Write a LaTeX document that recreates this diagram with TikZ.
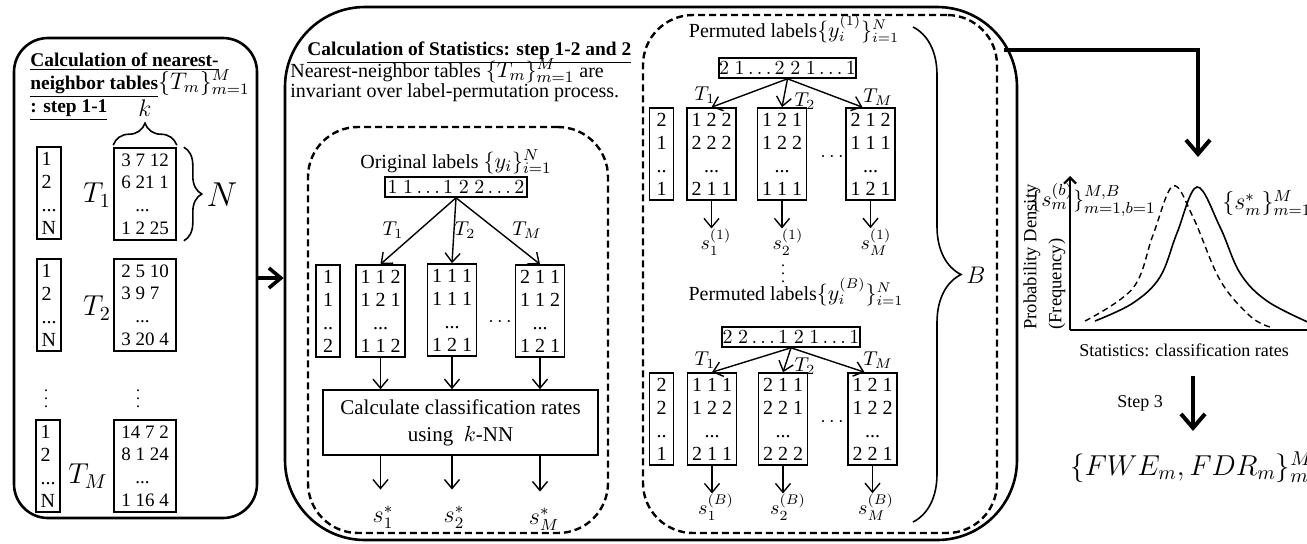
\documentclass[tikz,border=0pt]{standalone}
\usepackage{fontspec}
\setmainfont{Liberation Serif}
\usetikzlibrary{arrows.meta,decorations.pathreplacing,calc}
\begin{document}
\begin{tikzpicture}[x=0.5pt,y=-0.5pt,
 panel/.style={draw, line width=1.3pt, inner sep=0pt},
 dbox/.style={draw, line width=1.2pt, dash pattern=on 3.5pt off 2pt, rounded corners=25pt, inner sep=0pt},
 tbl/.style={draw, line width=0.8pt, align=center, inner sep=0pt, minimum width=24.5pt, minimum height=46pt, font=\fontsize{10}{11.5}\selectfont},
 ltbl/.style={tbl, align=left, minimum width=31pt, font=\fontsize{9.5}{11.3}\selectfont},
 idx/.style={tbl, align=left, minimum width=12pt},
 lbox/.style={draw, line width=0.8pt, inner sep=0pt, minimum height=10pt, font=\fontsize{10}{12}\selectfont},
 txt/.style={inner sep=0pt, font=\fontsize{10}{12}\selectfont},
 ttl/.style={inner sep=0pt, font=\bfseries\fontsize{9.7}{11.5}\selectfont},
 mlab/.style={inner sep=0pt, font=\fontsize{10}{12}\selectfont},
 slab/.style={inner sep=0pt, font=\fontsize{12}{14}\selectfont},
 vd/.style={inner sep=0pt, font=\fontsize{8}{9}\selectfont},
 arr/.style={line width=0.7pt, -{Straight Barb[length=4.5pt,width=7.5pt]}},
 bigarr/.style={line width=2pt, -{Straight Barb[length=7pt,width=12pt]}},
 brc/.style={decorate, decoration={brace, amplitude=#1}, line width=0.8pt},
]
\useasboundingbox (0,0) rectangle (1307,543);
\fill[white] (0,0) rectangle (1307,543);
\clip (0,0) rectangle (1307,543);

% ---------------- left panel ----------------
\node[panel, rounded corners=17pt, minimum width=121.5pt, minimum height=240pt] (lp) at (135.5,278) {};
\node[ttl, anchor=base west] (lt1) at (30,66) {\underline{Calculation of nearest-}};
\node[ttl, anchor=base west] (lt2) at (30,89) {\underline{neighbor tables}{\mdseries\fontsize{11.5}{13}\selectfont$\{T_m\}_{m=1}^{M}$}};
\node[ttl, anchor=base west] (lt3) at (30,112) {\underline{: step 1-1}};

\node[idx] (ia) at (49,193) {1\\2\\...\\N};
\node[ltbl] (ta) at (145,194) {3 7 12\\6 21 1\\\hspace{7pt}...\\1 2 25};
\node[mlab, font=\fontsize{14}{16}\selectfont] (la) at (97,195) {$T_1$};
\draw[brc=11pt] ([yshift=1pt]ta.north west) -- ([yshift=1pt]ta.north east);
\node[mlab, font=\fontsize{12}{14}\selectfont] (kl) at (145,108) {$k$};
\draw[brc=9pt] ([xshift=3.5pt]ta.north east) -- ([xshift=3.5pt]ta.south east);
\node[mlab, font=\fontsize{16}{18}\selectfont] (nl) at (222,195) {$N$};

\node[idx] (ib) at (49,305) {1\\2\\...\\N};
\node[ltbl] (tb) at (145,305) {2 5 10\\3 9 7\\\hspace{7pt}...\\3 20 4};
\node[mlab, font=\fontsize{14}{16}\selectfont] (lb) at (97,308) {$T_2$};

\node[vd] (vd1) at (46,393) {$\vdots$};
\node[vd] (vd2) at (138,393) {$\vdots$};

\node[idx] (ic) at (48,466) {1\\2\\...\\N};
\node[ltbl] (tc) at (145,466) {14 7 2\\8 1 24\\\hspace{7pt}...\\1 16 4};
\node[mlab, font=\fontsize{14}{16}\selectfont] (lc) at (88,476) {$T_M$};

% ---------------- middle panel ----------------
\node[panel, rounded corners=40pt, minimum width=366pt, minimum height=266.5pt] (mp) at (651,273.5) {};
\draw[line width=1.8pt, -{Straight Barb[length=6pt,width=10pt]}] (lp.east) -- (mp.west |- lp.east);

\node[ttl, anchor=base west] (mt1) at (307,55) {\underline{Calculation of Statistics: step 1-2 and 2}};
\node[txt, anchor=base west] (mt2) at (290,77) {Nearest-neighbor tables {\fontsize{11}{13}\selectfont$\{T_m\}_{m=1}^{M}$} are};
\node[txt, anchor=base west] (mt3) at (290,97) {invariant over label-permutation process.};

% original labels block
\node[dbox, minimum width=150pt, minimum height=203pt] (d1) at (458,330) {};
\node[txt, anchor=base] (ol) at (456,168) {Original labels {\fontsize{11}{13}\selectfont$\{y_i\}_{i=1}^{N}$}};
\node[lbox, minimum width=71pt] (ob) at (456,187) {$1\;1\ldots1\;2\;2\ldots2$};
\node[idx] (oi) at (328,311) {1\\1\\..\\2};
\node[tbl] (o1) at (380.5,311) {1 1 2\\1 2 1\\...\\1 1 2};
\node[tbl] (o2) at (452,310) {1 1 1\\1 1 1\\...\\1 2 1};
\node[tbl] (om) at (540,311) {2 1 1\\1 1 2\\...\\1 2 1};
\node[mlab] (od) at (500,322) {$\cdots$};
\draw[arr] (ob.south) -- (o1.north);
\draw[arr] (ob.south) -- (o2.north);
\draw[arr] (ob.south) -- (om.north);
\node[mlab] (ot1) at (393,230) {$T_1$};
\node[mlab] (ot2) at (465,230) {$T_2$};
\node[mlab] (otm) at (527,230) {$T_M$};
\node[draw, line width=0.8pt, minimum width=137.5pt, minimum height=32.5pt, align=center, font=\fontsize{10.5}{13.5}\selectfont] (calc) at (460.5,422.5) {Calculate classification rates\\using \ $k$-NN};
\draw[arr] (o1.south) -- (o1.south |- calc.north);
\draw[arr] (o2.south) -- (o2.south |- calc.north);
\draw[arr] (om.south) -- (om.south |- calc.north);
\node[slab] (s1) at (383,517) {$s_1^*$};
\node[slab] (s2) at (454,517) {$s_2^*$};
\node[slab] (sm) at (544,519) {$s_M^*$};
\draw[arr, shorten >=8pt] (calc.south -| o1.south) -- (o1.south |- s1.north);
\draw[arr, shorten >=8pt] (calc.south -| o2.south) -- (o2.south |- s2.north);
\draw[arr, shorten >=8pt] (calc.south -| om.south) -- (om.south |- sm.north);

% permuted labels block
\node[dbox, minimum width=177pt, minimum height=259pt] (d2) at (820,274) {};
\node[anchor=base, inner sep=0pt, font=\fontsize{10}{12}\selectfont] (pl1) at (794,37) {Permuted labels{\fontsize{10.5}{12}\selectfont$\{y_i^{(1)}\}_{i=1}^{N}$}};
\node[lbox, minimum width=67.5pt] (pb1) at (787.5,68) {$2\;1\ldots2\;2\;1\ldots1$};
\node[idx] (pi1) at (661.5,154) {2\\1\\..\\1};
\node[tbl] (p11) at (711.5,154) {1 2 2\\2 2 2\\...\\2 1 1};
\node[tbl] (p12) at (782,154) {1 2 1\\1 2 2\\...\\1 1 1};
\node[tbl] (p1m) at (870.5,154) {2 1 2\\1 1 1\\...\\1 2 1};
\node[mlab] (pd1) at (832,157) {$\cdots$};
\draw[arr] (pb1.south) -- (p11.north);
\draw[arr] (pb1.south) -- (p12.north);
\draw[arr] (pb1.south) -- ([xshift=-4pt]p1m.north);
\node[mlab] (p1t1) at (705,95) {$T_1$};
\node[mlab] (p1t2) at (805,101) {$T_2$};
\node[mlab] (p1tm) at (878,97) {$T_M$};
\node[mlab] (s11) at (716,242) {$s_1^{(1)}$};
\node[mlab] (s12) at (788,242) {$s_2^{(1)}$};
\node[mlab] (s1m) at (876,242) {$s_M^{(1)}$};
\draw[arr] (p11.south) -- (p11.south |- s11.north);
\draw[arr] (p12.south) -- (p12.south |- s12.north);
\draw[arr] (p1m.south) -- (p1m.south |- s1m.north);
\node[vd] (pvd) at (783,268) {$\vdots$};

\node[anchor=base, inner sep=0pt, font=\fontsize{10}{12}\selectfont] (plB) at (796,300) {Permuted labels{\fontsize{10.5}{12}\selectfont$\{y_i^{(B)}\}_{i=1}^{N}$}};
\node[lbox, minimum width=69pt] (pbB) at (791,337) {$2\;2\ldots1\;2\;1\ldots1$};
\node[idx] (piB) at (661.5,419) {2\\2\\..\\1};
\node[tbl] (pB1) at (712,419) {1 1 1\\1 2 2\\...\\2 1 1};
\node[tbl] (pB2) at (783,419) {2 1 1\\2 2 1\\...\\2 2 2};
\node[tbl] (pBm) at (872.5,419) {1 2 1\\1 2 2\\...\\2 2 1};
\node[mlab] (pdB) at (832,422) {$\cdots$};
\draw[arr] (pbB.south) -- (pB1.north);
\draw[arr] (pbB.south) -- (pB2.north);
\draw[arr] (pbB.south) -- ([xshift=-4pt]pBm.north);
\node[mlab] (pBt1) at (705,360) {$T_1$};
\node[mlab] (pBt2) at (805,366) {$T_2$};
\node[mlab] (pBtm) at (878,360) {$T_M$};
\node[mlab] (sB1) at (716,507) {$s_1^{(B)}$};
\node[mlab] (sB2) at (788,507) {$s_2^{(B)}$};
\node[mlab] (sBm) at (876,507) {$s_M^{(B)}$};
\draw[arr] (pB1.south) -- (pB1.south |- sB1.north);
\draw[arr] (pB2.south) -- (pB2.south |- sB2.north);
\draw[arr] (pBm.south) -- (pBm.south |- sBm.north);

% brace B
\coordinate (bt) at (913,27);
\coordinate (bb) at (913,522);
\draw[brc=24pt] (bt) -- (bb);
\node[mlab, font=\fontsize{13}{15}\selectfont] (bl) at (976,275) {$B$};

% ---------------- right side ----------------
\coordinate (a0) at (1004,50);
\coordinate (gtop) at (1198,157);
\draw[bigarr] (a0) -| (gtop);

\coordinate (org) at (1070,330);
\coordinate (ytop) at (1070,176);
\coordinate (xend) at (1312,330);
\draw[line width=1.1pt, -{Straight Barb[length=3pt,width=6pt]}] (org) -- (ytop);
\draw[line width=1.3pt] (org) -- (xend);
\draw[line width=0.7pt, dash pattern=on 3pt off 2pt] plot[smooth, tension=0.6] coordinates {(1085,321) (1133,288) (1153,235) (1173,186) (1193,217) (1220,280) (1250,316) (1270,327)};
\draw[line width=0.8pt] plot[smooth, tension=0.6] coordinates {(1095,321) (1133,303) (1160,277) (1177,233) (1197,187) (1220,227) (1240,273) (1267,301) (1310,323)};

\node[inner sep=0pt, rotate=90, anchor=west, font=\fontsize{9.3}{11}\selectfont] (yl1) at (1032,330) {Probability Density};
\node[inner sep=0pt, rotate=90, anchor=west, font=\fontsize{9.3}{11}\selectfont] (yl2) at (1057,330) {(Frequency)};
\node[mlab, font=\fontsize{11}{13}\selectfont] (sbl) at (1093,200) {$\{s_m^{(b)}\}_{m=1,b=1}^{M,B}$};
\node[mlab, font=\fontsize{12}{14}\selectfont, anchor=west] (ssl) at (1222,203) {$\{s_m^{*}\}_{m=1}^{M}$};
\node[inner sep=0pt, font=\fontsize{9}{11}\selectfont] (xl) at (1184,350) {Statistics: classification rates};

\node[inner sep=0pt, font=\fontsize{9}{11}\selectfont] (st3) at (1140,403) {Step 3};
\coordinate (s3a) at (1193,376);
\coordinate (s3b) at (1193,431);
\draw[bigarr] (s3a) -- (s3b);
\node[inner sep=0pt, anchor=west, font=\fontsize{14.5}{16}\selectfont] (fwe) at (1070,467) {$\{FWE_m, FDR_m\}_{m=1}^{M}$};
\end{tikzpicture}
\end{document}
